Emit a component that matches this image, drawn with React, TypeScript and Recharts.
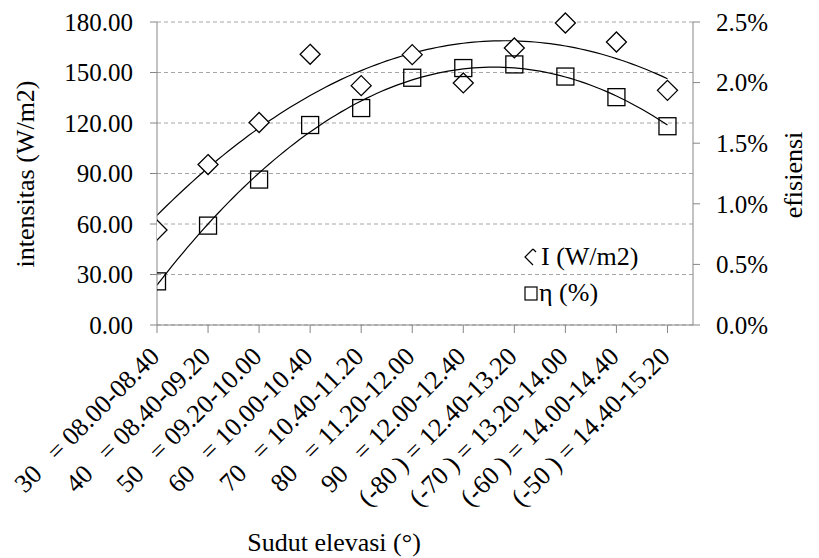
import { ComposedChart, Scatter, Line, XAxis, YAxis, CartesianGrid } from 'recharts'

const CATEGORY_LABELS = [
  '30\u00a0\u00a0\u00a0= 08.00-08.40',
  '40\u00a0\u00a0\u00a0= 08.40-09.20',
  '50\u00a0\u00a0\u00a0= 09.20-10.00',
  '60\u00a0\u00a0\u00a0= 10.00-10.40',
  '70\u00a0\u00a0\u00a0= 10.40-11.20',
  '80\u00a0\u00a0\u00a0= 11.20-12.00',
  '90\u00a0\u00a0\u00a0= 12.00-12.40',
  '(-80\u00a0) = 12.40-13.20',
  '(-70\u00a0) = 13.20-14.00',
  '(-60\u00a0) = 14.00-14.40',
  '(-50\u00a0) = 14.40-15.20',
]

const INTENSITY = [56.4, 95.3, 120.3, 160.8, 142.2, 160.6, 143.8, 164.6, 179.4, 168.1, 139.4]
const EFFICIENCY = [0.36, 0.82, 1.2, 1.65, 1.79, 2.04, 2.12, 2.15, 2.05, 1.88, 1.64]

const LEFT_TICKS = [0, 30, 60, 90, 120, 150, 180]
const RIGHT_TICKS = [0, 0.5, 1, 1.5, 2, 2.5]

const FONT = '"Liberation Serif", "Times New Roman", serif'
const AXIS_GREY = '#868686'

// least squares, 2nd order polynomial (like Excel's trendline)
function polyfit2(xs: number[], ys: number[]) {
  let s0 = 0, s1 = 0, s2 = 0, s3 = 0, s4 = 0, t0 = 0, t1 = 0, t2 = 0
  xs.forEach((x, i) => {
    const y = ys[i]
    s0 += 1; s1 += x; s2 += x * x; s3 += x ** 3; s4 += x ** 4
    t0 += y; t1 += x * y; t2 += x * x * y
  })
  const m = [
    [s0, s1, s2, t0],
    [s1, s2, s3, t1],
    [s2, s3, s4, t2],
  ]
  for (let c = 0; c < 3; c++) {
    for (let r = c + 1; r < 3; r++) {
      const f = m[r][c] / m[c][c]
      for (let k = c; k < 4; k++) m[r][k] -= f * m[c][k]
    }
  }
  const coef = [0, 0, 0]
  for (let r = 2; r >= 0; r--) {
    let s = m[r][3]
    for (let k = r + 1; k < 3; k++) s -= m[r][k] * coef[k]
    coef[r] = s / m[r][r]
  }
  return (x: number) => coef[0] + coef[1] * x + coef[2] * x * x
}

const xs = CATEGORY_LABELS.map((_, i) => i)
const points = xs.map((x, i) => ({ x, i: INTENSITY[i], eta: EFFICIENCY[i] }))

const fitI = polyfit2(xs, INTENSITY)
const fitEta = polyfit2(xs, EFFICIENCY)
const trend = Array.from({ length: 101 }, (_, k) => {
  const x = k / 10
  return { x, iFit: fitI(x), etaFit: fitEta(x) }
})

function Diamond(props: any) {
  const { cx, cy } = props
  const r = 10
  return (
    <polygon
      points={`${cx},${cy - r} ${cx + r},${cy} ${cx},${cy + r} ${cx - r},${cy}`}
      fill="#fff"
      stroke="#000"
      strokeWidth={1.3}
    />
  )
}

function Square(props: any) {
  const { cx, cy } = props
  const h = 8.5
  return <rect x={cx - h} y={cy - h} width={h * 2} height={h * 2} fill="none" stroke="#000" strokeWidth={1.3} />
}

function XTick(props: any) {
  const { x, y, payload } = props
  const lx = x + 4
  const ly = y + 25
  return (
    <text
      x={lx}
      y={ly}
      textAnchor="end"
      transform={`rotate(-45, ${lx}, ${ly})`}
      fontSize={26}
      fontFamily={FONT}
      fill="#000"
    >
      {CATEGORY_LABELS[payload.value]}
    </text>
  )
}

export default function App() {
  return (
    <div style={{ position: 'relative', width: 819, height: 558, background: '#fff' }}>
      <style>{'body{margin:0}'}</style>
      <ComposedChart
        width={819}
        height={558}
        margin={{ top: 22, right: 0, bottom: 0, left: 0 }}
        style={{ fontFamily: FONT }}
      >
        <CartesianGrid yAxisId="left" xAxisId="x" vertical={false} stroke="#a6a6a6" strokeDasharray="4 3" />
        <XAxis
          xAxisId="x"
          dataKey="x"
          type="number"
          domain={[0, 10.5]}
          allowDataOverflow
          ticks={xs}
          interval={0}
          height={233}
          tickSize={8}
          tickMargin={0}
          tick={<XTick />}
          stroke={AXIS_GREY}
          tickLine={{ stroke: AXIS_GREY }}
        />
        <YAxis
          yAxisId="left"
          orientation="left"
          type="number"
          domain={[0, 180]}
          ticks={LEFT_TICKS}
          width={157}
          tickSize={7}
          tickMargin={17}
          tickFormatter={(v: number) => v.toFixed(2)}
          tick={{ fontSize: 25, fill: '#000', fontFamily: FONT }}
          stroke={AXIS_GREY}
        />
        <YAxis
          yAxisId="right"
          orientation="right"
          type="number"
          domain={[0, 2.5]}
          ticks={RIGHT_TICKS}
          width={126}
          tickSize={7}
          tickMargin={16}
          tickFormatter={(v: number) => `${v.toFixed(1)}%`}
          tick={{ fontSize: 25, fill: '#000', fontFamily: FONT, textAnchor: 'start' }}
          stroke={AXIS_GREY}
        />
        <Line
          data={trend}
          dataKey="iFit"
          xAxisId="x"
          yAxisId="left"
          type="linear"
          dot={false}
          stroke="#000"
          strokeWidth={1.2}
          isAnimationActive={false}
        />
        <Line
          data={trend}
          dataKey="etaFit"
          xAxisId="x"
          yAxisId="right"
          type="linear"
          dot={false}
          stroke="#000"
          strokeWidth={1.2}
          isAnimationActive={false}
        />
        <Scatter data={points} dataKey="i" xAxisId="x" yAxisId="left" shape={<Diamond />} isAnimationActive={false} />
        <Scatter data={points} dataKey="eta" xAxisId="x" yAxisId="right" shape={<Square />} isAnimationActive={false} />
      </ComposedChart>

      <svg
        width={819}
        height={558}
        style={{ position: 'absolute', left: 0, top: 0, pointerEvents: 'none' }}
        fontFamily={FONT}
        fontSize={26}
      >
        <text x={25} y={174} textAnchor="middle" dominantBaseline="central" transform="rotate(-90, 25, 174)">
          intensitas (W/m2)
        </text>
        <text x={793} y={175} textAnchor="middle" dominantBaseline="central" transform="rotate(-90, 793, 175)">
          efisiensi
        </text>
        <text x={334} y={551} textAnchor="middle">
          Sudut elevasi (°)
        </text>

        {/* legend */}
        <polyline points="533,249 525,257 533,265" fill="none" stroke="#000" strokeWidth={1.2} />
        <polyline points="533,249 536,252" fill="none" stroke="#000" strokeWidth={1.2} />
        <text x={541} y={265}>I (W/m2)</text>
        <rect x={525} y={287} width={12} height={13} fill="none" stroke="#000" strokeWidth={1.2} />
        <text x={539} y={301}>η (%)</text>
      </svg>
    </div>
  )
}
